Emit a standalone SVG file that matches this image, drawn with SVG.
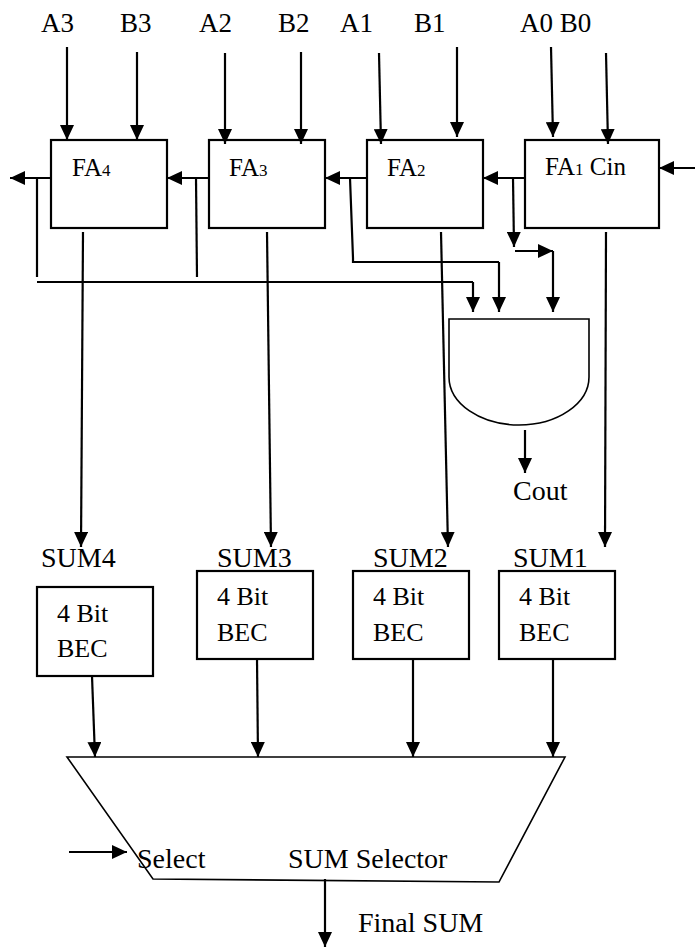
<svg xmlns="http://www.w3.org/2000/svg" width="695" height="948" viewBox="0 0 695 948" font-family="'Liberation Serif', 'Times New Roman', serif">
<defs>
<marker id="ah" markerUnits="userSpaceOnUse" markerWidth="15" markerHeight="14" refX="15" refY="7" orient="auto" viewBox="0 0 15 14">
<path d="M0,0 L15,7 L0,14 Z" fill="#000"/>
</marker>
</defs>
<style>
text { font-family: 'Liberation Serif', 'Times New Roman', serif; fill: #000; }
.lbl { font-size: 27px; }
.big { font-size: 28px; }
.fa { font-size: 25px; }
.sub { font-size: 17px; }
.bec { font-size: 26px; }
.box { fill: #fff; stroke: #000; stroke-width: 2.2; }
.thin { fill: #fff; stroke: #000; stroke-width: 1.6; }
.w { fill: none; stroke: #000; stroke-width: 2.2; }
.a { marker-end: url(#ah); }
</style>
<rect width="695" height="948" fill="#fff"/>

<g id="inputs">
<text class="lbl" x="41" y="32">A3</text>
<text class="lbl" x="120" y="32">B3</text>
<text class="lbl" x="199" y="32">A2</text>
<text class="lbl" x="278" y="32">B2</text>
<text class="lbl" x="340" y="32">A1</text>
<text class="lbl" x="414" y="32">B1</text>
<text class="lbl" x="520" y="32">A0 B0</text>
</g>

<g id="fa4">
<rect class="box" x="51" y="140" width="116" height="88"/>
<text class="fa" x="72" y="176">FA<tspan class="sub">4</tspan></text>
</g>
<g id="fa3">
<rect class="box" x="209" y="140" width="116" height="88"/>
<text class="fa" x="229" y="176">FA<tspan class="sub">3</tspan></text>
</g>
<g id="fa2">
<rect class="box" x="367" y="140" width="116" height="88"/>
<text class="fa" x="387" y="176">FA<tspan class="sub">2</tspan></text>
</g>
<g id="fa1">
<rect class="box" x="525" y="140" width="134" height="88"/>
<text class="fa" x="545" y="175">FA<tspan class="sub">1</tspan> Cin</text>
</g>

<g id="and_gate">
<path class="thin" d="M449,319 H589 V377 A70,48 0 0 1 449,377 Z"/>
</g>
<text id="cout" class="big" x="513" y="500">Cout</text>

<g id="bec4">
<text class="big" x="41" y="567">SUM4</text>
<rect class="box" x="37" y="587" width="116" height="89"/>
<text class="bec" x="57" y="622">4 Bit</text>
<text class="bec" x="57" y="657">BEC</text>
</g>
<g id="bec3">
<text class="big" x="217" y="567">SUM3</text>
<rect class="box" x="197" y="571" width="116" height="88"/>
<text class="bec" x="217" y="605">4 Bit</text>
<text class="bec" x="217" y="641">BEC</text>
</g>
<g id="bec2">
<text class="big" x="373" y="567">SUM2</text>
<rect class="box" x="353" y="571" width="116" height="88"/>
<text class="bec" x="373" y="605">4 Bit</text>
<text class="bec" x="373" y="641">BEC</text>
</g>
<g id="bec1">
<text class="big" x="513" y="567">SUM1</text>
<rect class="box" x="499" y="571" width="116" height="88"/>
<text class="bec" x="519" y="605">4 Bit</text>
<text class="bec" x="519" y="641">BEC</text>
</g>

<g id="mux">
<path class="thin" d="M67,757 H565 L499,882 L153,879 Z"/>
<text class="big" x="137" y="868">Select</text>
<text class="big" x="288" y="868">SUM Selector</text>
</g>
<text id="final" class="big" x="358" y="932">Final SUM</text>

<g id="connectors">
<line class="w a" x1="67" y1="47" x2="67" y2="140"/>
<line class="w a" x1="137" y1="52" x2="137" y2="140"/>
<line class="w a" x1="225" y1="53" x2="225" y2="144"/>
<line class="w a" x1="301" y1="52" x2="301" y2="144"/>
<line class="w a" x1="379" y1="53" x2="381" y2="144"/>
<line class="w a" x1="457" y1="47" x2="457" y2="137"/>
<line class="w a" x1="551" y1="47" x2="553" y2="137"/>
<line class="w a" x1="606" y1="53" x2="608" y2="144"/>
<line class="w a" x1="695" y1="168" x2="659" y2="168"/>
<line class="w a" x1="525" y1="178" x2="483" y2="178"/>
<line class="w a" x1="367" y1="178" x2="325" y2="178"/>
<line class="w a" x1="209" y1="178" x2="167" y2="178"/>
<line class="w a" x1="51" y1="178" x2="10" y2="178"/>
<line class="w a" x1="513" y1="178" x2="514" y2="247"/>
<line class="w a" x1="515" y1="251" x2="553" y2="251"/>
<line class="w a" x1="553" y1="251" x2="553" y2="312"/>
<polyline class="w" points="350,178 353,258 353,262 499,262"/>
<line class="w a" x1="499" y1="262" x2="499" y2="312"/>
<line class="w" x1="196" y1="178" x2="197" y2="277"/>
<line class="w" x1="37" y1="178" x2="37" y2="277"/>
<polyline class="w" points="37,282 473,282"/>
<line class="w a" x1="473" y1="282" x2="473" y2="312"/>
<line class="w a" x1="525" y1="430" x2="525" y2="473"/>
<line class="w a" x1="83" y1="232" x2="81" y2="547"/>
<line class="w a" x1="267" y1="232" x2="271" y2="547"/>
<line class="w a" x1="441" y1="232" x2="448" y2="547"/>
<line class="w a" x1="606" y1="232" x2="605" y2="547"/>
<line class="w a" x1="92" y1="676" x2="95" y2="757"/>
<line class="w a" x1="257" y1="659" x2="258" y2="757"/>
<line class="w a" x1="413" y1="659" x2="413" y2="757"/>
<line class="w a" x1="553" y1="659" x2="553" y2="757"/>
<line class="w a" x1="69" y1="852" x2="127" y2="852"/>
<line class="w a" x1="325" y1="879" x2="325" y2="947"/>
</g>
</svg>
